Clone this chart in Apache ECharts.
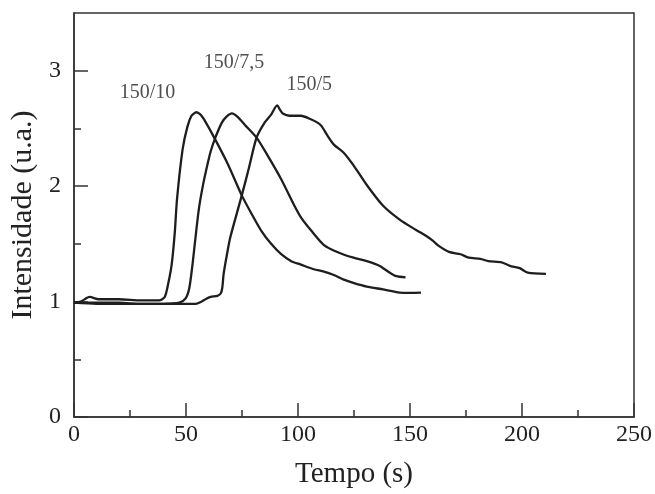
<!DOCTYPE html>
<html>
<head>
<meta charset="utf-8">
<script src="https://cdn.jsdelivr.net/npm/echarts@6/dist/echarts.min.js"></script>
<style>html,body{margin:0;padding:0;background:#fff}#c{width:655px;height:494px}</style>
</head>
<body>
<div id="c"></div>
<script>
// Series: [tempo (s), intensidade (u.a.)]
var serie150_10 = [[0,0.99],[3,1.00],[7,1.04],[11,1.02],[20,1.02],[30,1.01],[38,1.01],[40.5,1.04],[42,1.15],[43.6,1.32],[45,1.6],[46,1.89],[48.5,2.32],[50.7,2.52],[52.5,2.61],[54.6,2.64],[56.5,2.62],[58,2.58],[62.6,2.42],[68.7,2.19],[74.9,1.92],[79,1.77],[83.7,1.61],[88,1.5],[92.5,1.41],[97,1.35],[101.3,1.32],[107,1.28],[111.6,1.26],[116,1.23],[120.4,1.19],[125,1.16],[130.7,1.13],[138,1.105],[142,1.09],[145.4,1.077],[150,1.075],[154.9,1.077]];
var serie150_75 = [[0,0.99],[10,0.99],[20,0.99],[30,0.98],[40,0.98],[47,0.99],[49.9,1.03],[51.5,1.12],[52.9,1.32],[54.5,1.6],[55.8,1.81],[57.5,2.0],[59.5,2.18],[61,2.3],[63.1,2.42],[66,2.55],[68,2.6],[70.5,2.63],[73,2.6],[76.3,2.53],[81.5,2.42],[86.6,2.26],[92.5,2.06],[98.4,1.83],[101.3,1.73],[105.7,1.62],[111.6,1.49],[117.5,1.43],[124.8,1.38],[130.7,1.35],[136.3,1.31],[141,1.25],[143.9,1.22],[148,1.21]];
var serie150_5 = [[0,0.99],[10,0.98],[20,0.98],[30,0.98],[40,0.98],[50,0.98],[54.3,0.98],[57,1.0],[58.7,1.02],[61,1.04],[64,1.05],[65.5,1.07],[66.2,1.12],[66.8,1.24],[68.3,1.41],[69.7,1.55],[71.2,1.66],[74.9,1.92],[78,2.15],[81.5,2.42],[85.1,2.55],[88,2.62],[90.7,2.70],[92,2.66],[93.2,2.63],[96.2,2.61],[101.3,2.61],[105.7,2.58],[108.7,2.55],[110.5,2.52],[113.1,2.44],[116,2.36],[120.4,2.29],[124.8,2.18],[130.7,2.01],[138,1.83],[145.4,1.71],[152.7,1.62],[157.1,1.57],[160,1.53],[163,1.48],[167.4,1.43],[172.6,1.41],[176.2,1.38],[181.4,1.37],[185,1.35],[190.9,1.34],[194.6,1.31],[199,1.29],[202.6,1.25],[210.7,1.24]];

var labelTexts = ['150/10', '150/7,5', '150/5'];
var labelX = [32.8, 71.4, 105];
var labelY = [2.81, 3.07, 2.88];

var yMajorTicks = [0, 1, 2, 3];
var yMinorTicks = [0.5, 1.5, 2.5];
var xTitle = 'Tempo (s)';
var yTitle = 'Intensidade (u.a.)';

var FONT = '"Liberation Serif", "Times New Roman", serif';
var INK = '#222';

var chart = echarts.init(document.getElementById('c'), null, {renderer: 'canvas'});

function lineSeries(name, data) {
  return {
    name: name, type: 'line', data: data, smooth: 0.25, showSymbol: false,
    lineStyle: {color: '#1e1e1e', width: 2.3}, xAxisIndex: 0, yAxisIndex: 0, z: 3
  };
}

var labelData = labelTexts.map(function (t, i) { return {value: [labelX[i], labelY[i]], name: t}; });

chart.setOption({
  animation: false,
  backgroundColor: '#fff',
  grid: {left: 70, right: 17, top: 13, bottom: 73, show: true, borderColor: '#333', borderWidth: 1.5, containLabel: false},
  xAxis: [{
    type: 'value', min: 0, max: 250, interval: 50,
    name: xTitle, nameLocation: 'middle', nameGap: 43,
    nameTextStyle: {fontFamily: FONT, fontSize: 29, color: INK},
    axisLine: {show: true, lineStyle: {color: '#333', width: 1.5}},
    axisTick: {show: true, inside: true, length: 14, lineStyle: {color: '#333', width: 1.5}},
    minorTick: {show: true, splitNumber: 2, length: 7, lineStyle: {color: '#333', width: 1.5}},
    axisLabel: {fontFamily: FONT, fontSize: 24, color: INK, margin: 6},
    splitLine: {show: false}, minorSplitLine: {show: false}
  }],
  yAxis: [{
    type: 'value', min: 0, max: 3.5, position: 'left',
    name: yTitle, nameLocation: 'middle', nameGap: 36, nameRotate: 90,
    nameTextStyle: {fontFamily: FONT, fontSize: 30, color: INK},
    axisLine: {show: true, lineStyle: {color: '#333', width: 1.5}},
    axisTick: {show: true, inside: true, length: 14, customValues: yMajorTicks, lineStyle: {color: '#333', width: 1.5}},
    axisLabel: {fontFamily: FONT, fontSize: 24, color: INK, margin: 13, customValues: yMajorTicks},
    splitLine: {show: false}
  }, {
    type: 'value', min: 0, max: 3.5, position: 'left',
    axisLine: {show: false},
    axisTick: {show: true, inside: true, length: 7, customValues: yMinorTicks, lineStyle: {color: '#333', width: 1.5}},
    axisLabel: {show: false},
    splitLine: {show: false}
  }],
  series: [
    lineSeries('150/10', serie150_10),
    lineSeries('150/7,5', serie150_75),
    lineSeries('150/5', serie150_5),
    {
      type: 'scatter', data: labelData, symbolSize: 0, xAxisIndex: 0, yAxisIndex: 0,
      label: {show: true, position: 'inside', formatter: function (p) { return p.name; },
        fontFamily: FONT, fontSize: 20, color: INK}
    }
  ]
});
</script>
</body>
</html>
